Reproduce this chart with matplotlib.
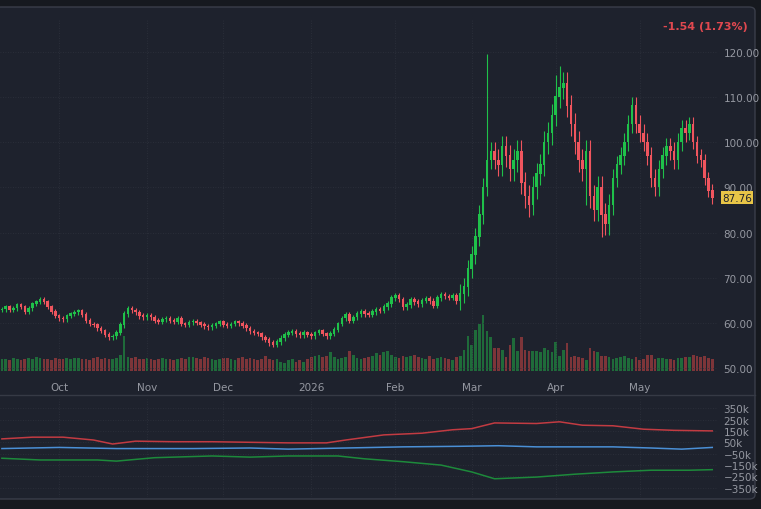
import matplotlib
matplotlib.use("Agg")
import matplotlib.pyplot as plt
from matplotlib.patches import FancyBboxPatch
import numpy as np
import pandas as pd

closes = [63,63.5,62.8,63.2,64,63.5,62.5,63.2,64.2,64.6,
 65.2,64.6,63.5,62.5,61.5,61,60.8,61.5,62,62.3,
 62.6,61.8,60.5,59.7,59.5,58.8,58.2,57.4,56.8,57,
 57.8,59.5,62,63.2,62.8,62.3,61.5,61.3,61.6,61.2,
 60.5,60.2,60.8,61,60.5,60.3,61,59.8,59.5,60.1,
 60.3,60,59.6,59.2,59,59.4,59.8,60.2,59.6,59.3,
 59.7,60.2,59.9,59.4,58.8,58.1,57.8,57.5,56.8,56.2,
 55.5,55.2,55.8,56.6,57.4,57.8,58,57.5,57.3,57.8,
 57.4,57,57.8,58.2,57.5,57,57.6,58.5,59.8,61,
 61.8,60.5,61.2,62,62.5,62,61.8,62.4,63,62.7,
 63.5,64.2,65.5,66,65.2,63.5,64,65.2,64.6,64.2,
 64.9,65.3,64.8,63.8,65.5,66.2,65.9,65.6,66,64.8,
 66.5,68,72,75,79,84,90,96,98,96,
 95,99,97,94,96,98,91,88,86,90,
 93,95,100,102,106,110,112,113,108,104,
 100,96,94,98,88,85,90,84,82,86,
 92,95,97,100,104,108,104,102,100,97,
 92,90,94,97,99,98,96,100,103,102,
 104,100,97,96,92,89.3,87.76]
first_open = 62.8
group_wick = [0.5,0.5,0.5,0.6,0.5,0.5,0.5,0.6,0.5,0.6,0.6,0.6,2.0,2.5,2.5,2.5,2.0,2.0,1.5]
special_high = {127: 119.5, 146: 117, 145: 115}
special_low = {157: 79, 153: 86, 139: 84}
volumes = [10,10,9,11,10,9,10,11,10,12,
 11,10,10,9,11,10,10,11,10,11,
 11,10,10,9,11,12,10,11,10,10,
 11,14,30,12,11,12,10,10,11,10,
 9,10,11,10,10,9,10,11,10,12,
 12,11,10,12,11,10,9,10,11,11,
 10,9,11,12,10,11,10,9,10,13,
 10,9,10,8,7,9,10,8,9,8,
 10,12,13,14,12,13,16,12,10,11,
 12,17,14,11,10,11,12,13,15,14,
 16,17,14,12,11,13,12,13,14,12,
 11,10,13,10,11,12,11,10,9,12,
 13,18,30,22,35,40,48,34,29,20,
 20,18,12,22,28,17,29,18,17,17,
 17,16,20,18,16,25,13,18,24,12,
 13,12,11,9,20,17,16,13,13,12,
 10,11,12,13,11,10,12,9,10,14,
 14,10,11,11,10,10,9,11,11,12,
 12,14,13,12,13,11,10]
red_idx = [0,8,16,24,29,35,45,55,65,75,85,90,100,110,118,123,129,140,146,152,160,168,176,186]
red_val = [80,95,95,70,35,60,55,55,50,45,45,70,115,130,160,170,220,215,230,200,195,165,155,150]
blue_idx = [0,15,30,50,65,75,90,105,120,130,140,160,170,178,186]
blue_val = [-5,5,-5,-5,0,-10,0,10,15,20,10,10,0,-10,5]
green_idx = [0,10,25,30,40,55,65,75,88,95,105,115,123,129,140,150,160,170,180,186]
green_val = [-90,-105,-105,-115,-85,-70,-80,-70,-70,-95,-120,-150,-210,-270,-255,-230,-210,-195,-195,-190]
price_ticks = [50,60,70,80,90,100,110,120]
osc_ticks = [350,250,150,50,-50,-150,-250,-350]

n = len(closes)
dates = pd.bdate_range("2025-09-10", periods=n)
c = np.array(closes)
o = np.concatenate([[first_open], c[:-1]])
wick = np.array([group_wick[i // 10] for i in range(n)])
h = np.maximum(o, c) + wick
l = np.minimum(o, c) - wick
for k, v in special_high.items(): h[k] = v
for k, v in special_low.items(): l[k] = v
x = np.arange(n)
up = c >= o

BG = "#1e222d"
W = 761; H = 510
fig = plt.figure(figsize=(7.61, 5.10), dpi=100, facecolor="#16191f")
fig.patches.append(FancyBboxPatch((-5/W, 10/H), 760/W, 492/H, boxstyle="round,pad=0,rounding_size=0.008",
                                  transform=fig.transFigure, fc=BG, ec="#3a3e4a", lw=1, zorder=-10))
ax = fig.add_axes([0, 1-372/H, 718/W, (372-20)/H])
ax2 = fig.add_axes([0, 1-498/H, 718/W, 98/H])
axv = ax.twinx()
axv.set_ylim(0, 300)
axv.set_axis_off()
axv.set_zorder(0.5)
ax.set_zorder(1)
for a in (ax, ax2):
    a.set_facecolor("none")
    for s in a.spines.values(): s.set_visible(False)
    a.yaxis.tick_right()
    a.tick_params(length=0, colors="#9598a1", labelsize=7.5, pad=4)
    a.set_xlim(-0.5, 187.5)
    a.grid(True, color="#2e323d", ls=(0, (1, 2)), lw=0.6)
axv.set_xlim(-0.5, 187.5)

ax.set_ylim(50 - 3/4.514, 120 + 33/4.514)
vcol = ["#1f6b3a" if u else "#7d3539" for u in up]
axv.bar(x, volumes, width=0.7, color=vcol, zorder=1)

col = np.where(up, "#1fc14a", "#f0555e")
ax.vlines(x, l, h, colors=col, lw=0.8, zorder=3)
ax.bar(x, np.abs(c-o)+0.15, bottom=np.minimum(o, c), width=0.65, color=col, zorder=4)
ax.set_yticks(price_ticks)
ax.set_yticklabels([f"{t:.2f}" for t in price_ticks])

months = []
for i, d in enumerate(dates):
    if i > 0 and d.month != dates[i-1].month:
        months.append((i, "2026" if d.month == 1 else d.strftime("%b")))
ax.set_xticks([m[0] for m in months])
ax.set_xticklabels([m[1] for m in months])
ax.tick_params(axis="x", pad=8)
ax2.set_xticks([m[0] for m in months]); ax2.set_xticklabels([])

ax.text(1.0 + 30/718, 1.0 - 7/352, "-1.54 (1.73%)", transform=ax.transAxes, ha="right", va="center",
        color="#e0484f", fontsize=8, fontweight="bold")
ax.text(1.0 + 4/718, c[-1], f"{c[-1]:.2f}", transform=ax.get_yaxis_transform(), ha="left", va="center",
        color="#1e222d", fontsize=7.5, bbox=dict(boxstyle="square,pad=0.12", fc="#e8c547", ec="none"))

fig.add_artist(plt.Line2D([0, 755/W], [1-396/H]*2, color="#363a45", lw=1, transform=fig.transFigure))

ax2.set_ylim(-430, 430)
ax2.set_yticks(osc_ticks)
ax2.set_yticklabels([f"{t}k" if t >= 0 else f"\u2212{-t}k" for t in osc_ticks])
ax2.plot(red_idx, red_val, color="#c23b42", lw=1.1)
ax2.plot(blue_idx, blue_val, color="#4a8fd6", lw=1.1)
ax2.plot(green_idx, green_val, color="#1d8a3b", lw=1.1)

fig.savefig("out.png", dpi=100, facecolor=fig.get_facecolor())
